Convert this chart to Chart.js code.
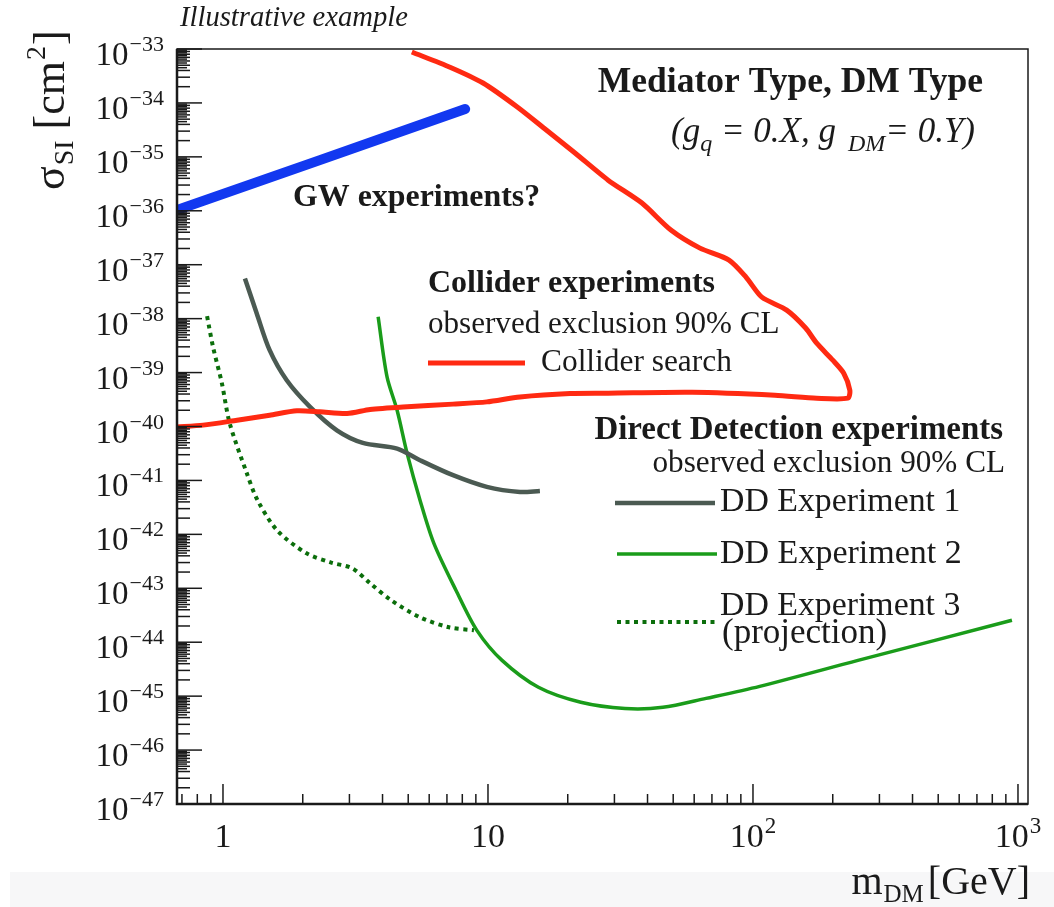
<!DOCTYPE html>
<html>
<head>
<meta charset="utf-8">
<script src="https://cdn.jsdelivr.net/npm/chart.js@4"></script>
<style>
  html, body { margin: 0; padding: 0; background: #fff; }
  canvas { display: block; }
</style>
</head>
<body>
<canvas id="dmChart" width="1054" height="907"></canvas>
<script>
// values: m_DM in GeV, sigma_SI in cm^2
const gwMass = [0.67, 2.32, 8.2];
const gwXsec = [1.03e-36, 8.7e-36, 7.7e-35];

const colliderMass = [5.16, 7.19, 9.58, 12.9, 16.6, 21.3, 28.4, 38.1, 49.0, 63.1, 81.2, 94.1, 108, 134, 158, 174, 200, 220, 232, 228,
                      174, 121, 58.9, 28.4, 20.4, 13.2, 9.9, 7.38, 4.78, 3.59, 2.94, 2.32, 1.90, 1.50, 1.13, 0.841, 0.671];
const colliderXsec = [8.8e-34, 4.6e-34, 2.34e-34, 8.4e-35, 3.14e-35, 1.18e-35, 3.7e-36, 1.39e-36, 4.4e-37, 2.03e-37, 1.22e-37, 5.9e-38,
                      2.5e-38, 1.44e-38, 6.7e-39, 3.5e-39, 1.7e-39, 9.75e-40, 4.7e-40, 3.35e-40,
                      3.35e-40, 3.8e-40, 4.3e-40, 4.15e-40, 4.1e-40, 3.54e-40, 2.86e-40, 2.6e-40, 2.31e-40, 2.07e-40, 1.74e-40,
                      1.87e-40, 1.95e-40, 1.62e-40, 1.31e-40, 1.06e-40, 9.8e-41];

const dd1Mass = [1.21, 1.34, 1.50, 1.74, 2.13, 2.69, 3.37, 4.54, 5.54, 7.38, 9.9, 13.2, 15.7];
const dd1Xsec = [5.57e-38, 1.26e-38, 2.6e-39, 7.2e-40, 2.31e-40, 8.5e-41, 4.97e-41, 3.9e-41, 2.37e-41, 1.25e-41, 7.6e-42, 6.1e-42, 6.4e-42];

const dd2Mass = [3.85, 4.16, 4.54, 4.95, 5.54, 6.25, 7.57, 9.08, 11.3, 15.5, 22.4, 32.9, 45.7, 66.5, 106, 249, 949];
const dd2Xsec = [1.08e-38, 8.3e-40, 2.0e-40, 3.2e-41, 4.3e-42, 6.8e-43, 9.2e-44, 1.66e-44, 4.6e-45, 1.46e-45, 7.7e-46, 5.9e-46,
                 6.2e-46, 9.1e-46, 1.52e-45, 4.6e-45, 2.55e-44];

const dd3Mass = [0.871, 0.917, 0.99, 1.06, 1.23, 1.35, 1.60, 2.06, 2.56, 3.07, 3.59, 4.31, 5.54, 7.13, 8.85];
const dd3Xsec = [1.11e-38, 3.0e-39, 6.4e-40, 1.15e-40, 1.36e-41, 4.3e-42, 1.19e-42, 4.5e-43, 3.0e-43, 2.35e-43, 1.24e-43, 6.0e-44,
                 2.9e-44, 1.89e-44, 1.66e-44];

// axis ranges and tick labels
const xRange = [0.6706, 1091];
const yRange = [1e-47, 1e-33];
const xTickValues = [1, 10, 100, 1000];
const xTickLabels = [['1', ''], ['10', ''], ['10', '2'], ['10', '3']];
const yTickExps = [-47, -46, -45, -44, -43, -42, -41, -40, -39, -38, -37, -36, -35, -34, -33];

const SERIF = '"Liberation Serif", "Times New Roman", serif';

function pts(xs, ys) {
  return xs.map((x, i) => ({ x: x, y: ys[i] }));
}

// draw a row of text pieces (for sub/superscripts), aligned on a baseline
function drawRuns(ctx, runs, x, y, align) {
  let total = 0;
  runs.forEach(r => {
    ctx.font = `${r.style || ''} ${r.size}px ${SERIF}`;
    r.w = ctx.measureText(r.t).width;
    total += r.w + (r.gap || 0);
  });
  let cx = align === 'right' ? x - total : align === 'center' ? x - total / 2 : x;
  ctx.textAlign = 'left';
  ctx.textBaseline = 'alphabetic';
  runs.forEach(r => {
    ctx.font = `${r.style || ''} ${r.size}px ${SERIF}`;
    ctx.fillText(r.t, cx + (r.gap || 0), y + (r.dy || 0));
    cx += r.w + (r.gap || 0);
  });
}

// text sized so it spans the width it has in the reference
function fitText(ctx, text, x, y, style, width, align) {
  ctx.font = `${style} 100px ${SERIF}`;
  const size = 100 * width / ctx.measureText(text).width;
  ctx.font = `${style} ${size.toFixed(1)}px ${SERIF}`;
  ctx.textAlign = align || 'left';
  ctx.textBaseline = 'middle';
  ctx.fillText(text, x, y);
}

function legendLine(ctx, ds, x0, x1, y) {
  ctx.save();
  ctx.strokeStyle = ds.borderColor;
  ctx.lineWidth = ds.borderWidth;
  ctx.setLineDash(ds.borderDash || []);
  ctx.beginPath();
  ctx.moveTo(x0, y);
  ctx.lineTo(x1, y);
  ctx.stroke();
  ctx.restore();
}

const decor = {
  id: 'decor',
  beforeDraw(chart) {
    const ctx = chart.ctx;
    ctx.save();
    ctx.fillStyle = '#fff';
    ctx.fillRect(0, 0, chart.width, chart.height);
    ctx.fillStyle = '#f7f7f8';
    ctx.fillRect(10, 872, chart.width - 10, chart.height - 872);
    ctx.restore();
  },
  afterDraw(chart) {
    const ctx = chart.ctx;
    const a = chart.chartArea;
    const xs = chart.scales.x, ys = chart.scales.y;
    const ds = chart.data.datasets;
    ctx.save();

    // frame
    ctx.strokeStyle = '#1a1a1a';
    ctx.lineWidth = 1.5;
    ctx.strokeRect(a.left, a.top, a.right - a.left, a.bottom - a.top);
    ctx.lineWidth = 2.5;
    ctx.beginPath();
    ctx.moveTo(a.left, a.top);
    ctx.lineTo(a.left, a.bottom);
    ctx.lineTo(a.right, a.bottom);
    ctx.stroke();

    // y ticks (inside), dense just under each decade like ROOT
    ctx.lineWidth = 1.5;
    const ySub = [2, 3, 4, 4.5, 5, 5.5, 6, 6.5, 7, 7.5, 8, 8.5, 9, 9.5];
    yTickExps.forEach(e => {
      const base = Number('1e' + e);
      const py = ys.getPixelForValue(base);
      ctx.beginPath();
      ctx.moveTo(a.left, py);
      ctx.lineTo(a.left + 25, py);
      ctx.stroke();
      if (e < -33) {
        ySub.forEach(k => {
          const p = ys.getPixelForValue(k * base);
          const len = Number.isInteger(k) ? 13 : 10;
          ctx.beginPath();
          ctx.moveTo(a.left, p);
          ctx.lineTo(a.left + len, p);
          ctx.stroke();
        });
      }
    });

    // x ticks (inside)
    [0.1, 1, 10, 100, 1000].forEach(base => {
      for (let k = 1; k <= 9; k++) {
        const v = k * base;
        if (v < xRange[0] || v > xRange[1]) continue;
        const px = xs.getPixelForValue(v);
        const len = k === 1 ? 20 : 10;
        ctx.beginPath();
        ctx.moveTo(px, a.bottom);
        ctx.lineTo(px, a.bottom - len);
        ctx.stroke();
      }
    });

    // tick labels
    ctx.fillStyle = '#1a1a1a';
    yTickExps.forEach(e => {
      const py = ys.getPixelForValue(Number('1e' + e));
      drawRuns(ctx, [
        { t: '10', size: 33 },
        { t: '\u2212' + (-e), size: 22, dy: -14, gap: 1 }
      ], 164, py + 16, 'right');
    });
    xTickValues.forEach((v, i) => {
      const px = xs.getPixelForValue(v);
      const lab = xTickLabels[i];
      const runs = [{ t: lab[0], size: 34 }];
      if (lab[1]) runs.push({ t: lab[1], size: 23, dy: -14, gap: 1 });
      drawRuns(ctx, runs, px, 847, 'center');
    });

    // axis titles
    ctx.save();
    ctx.translate(64, 190);
    ctx.rotate(-Math.PI / 2);
    drawRuns(ctx, [
      { t: '\u03c3', size: 44 },
      { t: 'SI', size: 28, dy: 9, gap: 1 },
      { t: '[cm', size: 44, gap: 11 },
      { t: '2', size: 28, dy: -19, gap: 1 },
      { t: ']', size: 44, gap: 1 }
    ], 0, 0, 'left');
    ctx.restore();
    drawRuns(ctx, [
      { t: 'm', size: 40 },
      { t: 'DM', size: 25, dy: 8, gap: 1 },
      { t: '[GeV]', size: 40, gap: 4 }
    ], 1030, 894, 'right');

    // annotations
    fitText(ctx, 'Illustrative example', 180, 18, 'italic', 228);
    fitText(ctx, 'Mediator Type, DM Type', 983, 83, 'bold', 385, 'right');
    drawRuns(ctx, [
      { t: '(g', size: 35, style: 'italic' },
      { t: 'q', size: 24, style: 'italic', dy: 9 },
      { t: ' = 0.X, g', size: 35, style: 'italic' },
      { t: '  DM', size: 24, style: 'italic', dy: 9 },
      { t: '= 0.Y)', size: 35, style: 'italic' }
    ], 975, 142, 'right');
    fitText(ctx, 'GW experiments?', 293, 198, 'bold', 247);
    fitText(ctx, 'Collider experiments', 428, 284, 'bold', 287);
    fitText(ctx, 'observed exclusion 90% CL', 428, 325, '', 352);
    legendLine(ctx, ds[1], 428, 525, 363);
    fitText(ctx, 'Collider search', 541, 363, '', 191);
    fitText(ctx, 'Direct Detection experiments', 1003, 430, 'bold', 409, 'right');
    fitText(ctx, 'observed exclusion 90% CL', 1005, 464, '', 353, 'right');
    legendLine(ctx, ds[2], 615, 715, 503);
    fitText(ctx, 'DD Experiment 1', 720, 502, '', 240);
    legendLine(ctx, ds[3], 617, 717, 554);
    fitText(ctx, 'DD Experiment 2', 720, 554, '', 242);
    legendLine(ctx, ds[4], 617, 717, 622);
    fitText(ctx, 'DD Experiment 3', 720, 606, '', 240);
    fitText(ctx, '(projection)', 722, 634, '', 165);

    ctx.restore();
  }
};

new Chart(document.getElementById('dmChart').getContext('2d'), {
  type: 'scatter',
  data: {
    datasets: [
      {
        label: 'GW experiments?',
        data: pts(gwMass, gwXsec),
        showLine: true,
        borderColor: '#1238f0',
        borderWidth: 10,
        borderCapStyle: 'round',
        pointRadius: 0
      },
      {
        label: 'Collider search',
        data: pts(colliderMass, colliderXsec),
        showLine: true,
        borderColor: '#ff2a12',
        borderWidth: 5,
        tension: 0.25,
        pointRadius: 0
      },
      {
        label: 'DD Experiment 1',
        data: pts(dd1Mass, dd1Xsec),
        showLine: true,
        borderColor: '#4b5a52',
        borderWidth: 4.5,
        tension: 0.3,
        pointRadius: 0
      },
      {
        label: 'DD Experiment 2',
        data: pts(dd2Mass, dd2Xsec),
        showLine: true,
        borderColor: '#1a9c1a',
        borderWidth: 3.5,
        tension: 0.3,
        pointRadius: 0
      },
      {
        label: 'DD Experiment 3 (projection)',
        data: pts(dd3Mass, dd3Xsec),
        showLine: true,
        borderColor: '#0b6e0b',
        borderWidth: 4,
        borderDash: [4, 4.5],
        tension: 0.3,
        pointRadius: 0
      }
    ]
  },
  options: {
    responsive: false,
    animation: false,
    devicePixelRatio: 1,
    layout: { padding: { left: 177, top: 49, right: 26, bottom: 103 } },
    scales: {
      x: { type: 'logarithmic', min: xRange[0], max: xRange[1], bounds: 'data', display: false },
      y: { type: 'logarithmic', min: yRange[0], max: yRange[1], bounds: 'data', display: false }
    },
    plugins: {
      legend: { display: false },
      tooltip: { enabled: false }
    }
  },
  plugins: [decor]
});
</script>
</body>
</html>
